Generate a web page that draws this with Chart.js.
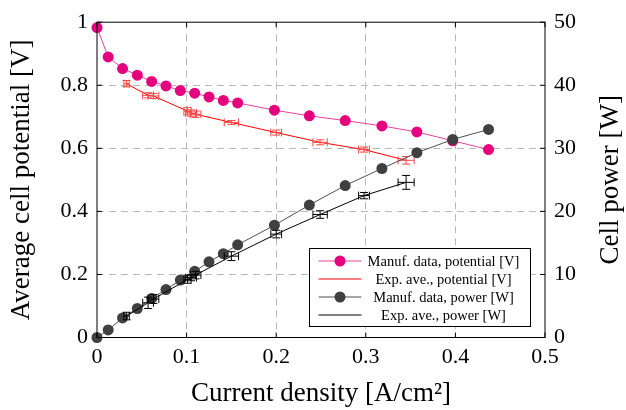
<!DOCTYPE html>
<html>
<head>
<meta charset="utf-8">
<script src="https://cdn.jsdelivr.net/npm/chart.js@4.4.1/dist/chart.umd.min.js"></script>
<style>
  html,body{margin:0;padding:0;background:#fff;}
  #wrap{width:626px;height:410px;}
</style>
</head>
<body>
<div id="wrap"><canvas id="cv" width="626" height="410"></canvas></div>
<script>
// Manufacturer polarisation / power data
const currManuf=[0,0.0125,0.0285,0.045,0.061,0.077,0.093,0.109,0.125,0.141,0.157,0.198,0.237,0.277,0.318,0.357,0.397,0.437];
const potManuf =[0.983,0.890,0.853,0.832,0.812,0.798,0.783,0.775,0.763,0.752,0.744,0.721,0.703,0.688,0.671,0.652,0.624,0.596];
const powManuf =[0,1.2,3.1,4.6,6.2,7.6,9.1,10.5,12.0,13.3,14.7,17.8,21.0,24.1,26.8,29.3,31.4,33.0];

// Experimental averages with spread
const currExp=[0.033,0.057,0.063,0.101,0.105,0.110,0.150,0.200,0.249,0.298,0.345];
const potExp =[0.805,0.768,0.766,0.718,0.712,0.708,0.682,0.650,0.619,0.596,0.562];
const powExp =[3.4,5.5,6.1,9.2,9.5,9.9,12.9,16.4,19.5,22.5,24.6];
const currErr=[0.003,0.006,0.006,0.004,0.006,0.006,0.008,0.006,0.008,0.006,0.009];
const potErr =[0.010,0.008,0.008,0.012,0.010,0.010,0.006,0.008,0.008,0.008,0.012];
const powErr =[0.6,0.9,0.7,0.6,0.5,0.6,0.7,0.6,0.6,0.5,1.1];

// Axis ticks
const xTicks=[0,0.1,0.2,0.3,0.4,0.5];
const vTicks=[0,0.2,0.4,0.6,0.8,1];
const wTicks=[0,10,20,30,40,50];

const SERIF='"Liberation Serif","DejaVu Serif",serif';
const col={mag:'#e5007e',magLine:'#e8409f',red:'#ff0000',redBar:'#ff4545',dark:'#404040',darkLine:'#505050',black:'#000'};

const pts=(xs,ys)=>xs.map((x,i)=>({x,y:ys[i]}));

// error bars with end caps, drawn through the dataset's own scales
const errorBars={
  id:'errorBars',
  afterDatasetDraw(chart,args){
    const ds=chart.data.datasets[args.index], eb=ds.errorBars; if(!eb) return;
    const xs=chart.scales.x, ys=chart.scales[ds.yAxisID];
    const ctx=chart.ctx, cap=4;
    ctx.save(); ctx.strokeStyle=eb.color; ctx.lineWidth=1;
    ds.data.forEach((p,i)=>{
      const cx=xs.getPixelForValue(p.x), cy=ys.getPixelForValue(p.y);
      const x0=xs.getPixelForValue(p.x-eb.x[i]), x1=xs.getPixelForValue(p.x+eb.x[i]);
      const y0=ys.getPixelForValue(p.y-eb.y[i]), y1=ys.getPixelForValue(p.y+eb.y[i]);
      ctx.beginPath();
      ctx.moveTo(x0,cy); ctx.lineTo(x1,cy);
      ctx.moveTo(x0,cy-cap); ctx.lineTo(x0,cy+cap);
      ctx.moveTo(x1,cy-cap); ctx.lineTo(x1,cy+cap);
      ctx.moveTo(cx,y0); ctx.lineTo(cx,y1);
      ctx.moveTo(cx-cap,y0); ctx.lineTo(cx+cap,y0);
      ctx.moveTo(cx-cap,y1); ctx.lineTo(cx+cap,y1);
      ctx.stroke();
    });
    ctx.restore();
  }
};

// full axis box, inward ticks, right-hand title and legend box
const frame={
  id:'frame',
  afterDatasetsDraw(chart){
    const {ctx,chartArea:a,scales}=chart;
    ctx.save();
    ctx.strokeStyle='#000'; ctx.lineWidth=1;
    ctx.strokeRect(a.left,a.top,a.right-a.left,a.bottom-a.top);
    ctx.beginPath();
    const t=5;
    scales.x.ticks.forEach(k=>{const px=scales.x.getPixelForValue(k.value);
      ctx.moveTo(px,a.bottom); ctx.lineTo(px,a.bottom-t); ctx.moveTo(px,a.top); ctx.lineTo(px,a.top+t);});
    scales.yV.ticks.forEach(k=>{const py=scales.yV.getPixelForValue(k.value);
      ctx.moveTo(a.left,py); ctx.lineTo(a.left+t,py);});
    scales.yW.ticks.forEach(k=>{const py=scales.yW.getPixelForValue(k.value);
      ctx.moveTo(a.right,py); ctx.lineTo(a.right-t,py);});
    ctx.stroke();
    ctx.restore();
  },
  afterDraw(chart){
    const ctx=chart.ctx, ds=chart.data.datasets, a=chart.chartArea;
    ctx.save();
    // right axis title, reading bottom to top like the left one
    ctx.translate(611,(a.top+a.bottom)/2); ctx.rotate(-Math.PI/2);
    ctx.font='27px '+SERIF; ctx.fillStyle='#000'; ctx.textAlign='center'; ctx.textBaseline='middle';
    ctx.fillText('Cell power [W]',0,0);
    ctx.restore();

    const bx=309.5,by=248.5,bw=221,bh=78;
    ctx.save();
    ctx.fillStyle='#fff'; ctx.fillRect(bx,by,bw,bh);
    ctx.strokeStyle='#000'; ctx.lineWidth=1; ctx.strokeRect(bx,by,bw,bh);
    ctx.font='14.5px '+SERIF; ctx.textAlign='center'; ctx.textBaseline='middle';
    ds.forEach((d,i)=>{
      const y=by+12.5+i*18;
      ctx.strokeStyle=d.borderColor; ctx.lineWidth=1;
      ctx.beginPath(); ctx.moveTo(bx+9,y); ctx.lineTo(bx+52,y); ctx.stroke();
      if(d.pointRadius>0){ctx.fillStyle=d.pointBackgroundColor; ctx.beginPath(); ctx.arc(bx+30.5,y,d.pointRadius,0,Math.PI*2); ctx.fill();}
      ctx.fillStyle='#000'; ctx.fillText(d.label,bx+134,y+1);
    });
    ctx.restore();
  }
};

const edge=(ticks)=>c=>(c.tick&&(c.tick.value===ticks[0]||c.tick.value===ticks[ticks.length-1]))?'rgba(0,0,0,0)':'#b9b9b9';
const tickFont={family:SERIF,size:22};

new Chart(document.getElementById('cv').getContext('2d'),{
  type:'scatter',
  data:{datasets:[
    {label:'Manuf. data, potential [V]',data:pts(currManuf,potManuf),yAxisID:'yV',showLine:true,clip:false,
     borderColor:col.magLine,borderWidth:1,pointRadius:5.5,pointBackgroundColor:col.mag,pointBorderColor:col.mag,pointBorderWidth:0,order:4},
    {label:'Exp. ave., potential [V]',data:pts(currExp,potExp),yAxisID:'yV',showLine:true,clip:false,
     borderColor:col.red,borderWidth:1,pointRadius:0,errorBars:{x:currErr,y:potErr,color:col.redBar},order:3},
    {label:'Manuf. data, power [W]',data:pts(currManuf,powManuf),yAxisID:'yW',showLine:true,clip:false,
     borderColor:col.darkLine,borderWidth:1,pointRadius:5.5,pointBackgroundColor:col.dark,pointBorderColor:col.dark,pointBorderWidth:0,order:2},
    {label:'Exp. ave., power [W]',data:pts(currExp,powExp),yAxisID:'yW',showLine:true,clip:false,
     borderColor:col.black,borderWidth:1,pointRadius:0,errorBars:{x:currErr,y:powErr,color:col.black},order:1}
  ]},
  options:{
    responsive:false,animation:false,
    layout:{padding:{top:17.5,left:0,right:0,bottom:0}},
    plugins:{legend:{display:false},tooltip:{enabled:false}},
    scales:{
      x:{type:'linear',min:0,max:0.5,
         afterBuildTicks:s=>{s.ticks=xTicks.map(v=>({value:v}));},
         afterFit:s=>{s.height=72.5;},
         ticks:{padding:7,color:'#000',font:tickFont,callback:v=>String(v)},
         grid:{color:edge(xTicks),drawTicks:false},
         border:{display:false,dash:[7,5]},
         title:{display:true,text:'Current density [A/cm²]',color:'#000',font:{family:SERIF,size:27},padding:{bottom:0}}},
      yV:{type:'linear',position:'left',min:0,max:1,
         afterBuildTicks:s=>{s.ticks=vTicks.map(v=>({value:v}));},
         afterFit:s=>{s.width=97;},
         ticks:{padding:9,color:'#000',font:tickFont,callback:v=>String(v)},
         grid:{color:edge(vTicks),drawTicks:false},
         border:{display:false,dash:[7,5]},
         title:{display:true,text:'Average cell potential [V]',color:'#000',font:{family:SERIF,size:27},padding:{top:6}}},
      yW:{type:'linear',position:'right',min:0,max:50,
         afterBuildTicks:s=>{s.ticks=wTicks.map(v=>({value:v}));},
         afterFit:s=>{s.width=81;},
         ticks:{padding:9,color:'#000',font:tickFont,callback:v=>String(v)},
         grid:{display:false,drawTicks:false},
         border:{display:false},
         title:{display:false}}
    }
  },
  plugins:[errorBars,frame]
});
</script>
</body>
</html>
